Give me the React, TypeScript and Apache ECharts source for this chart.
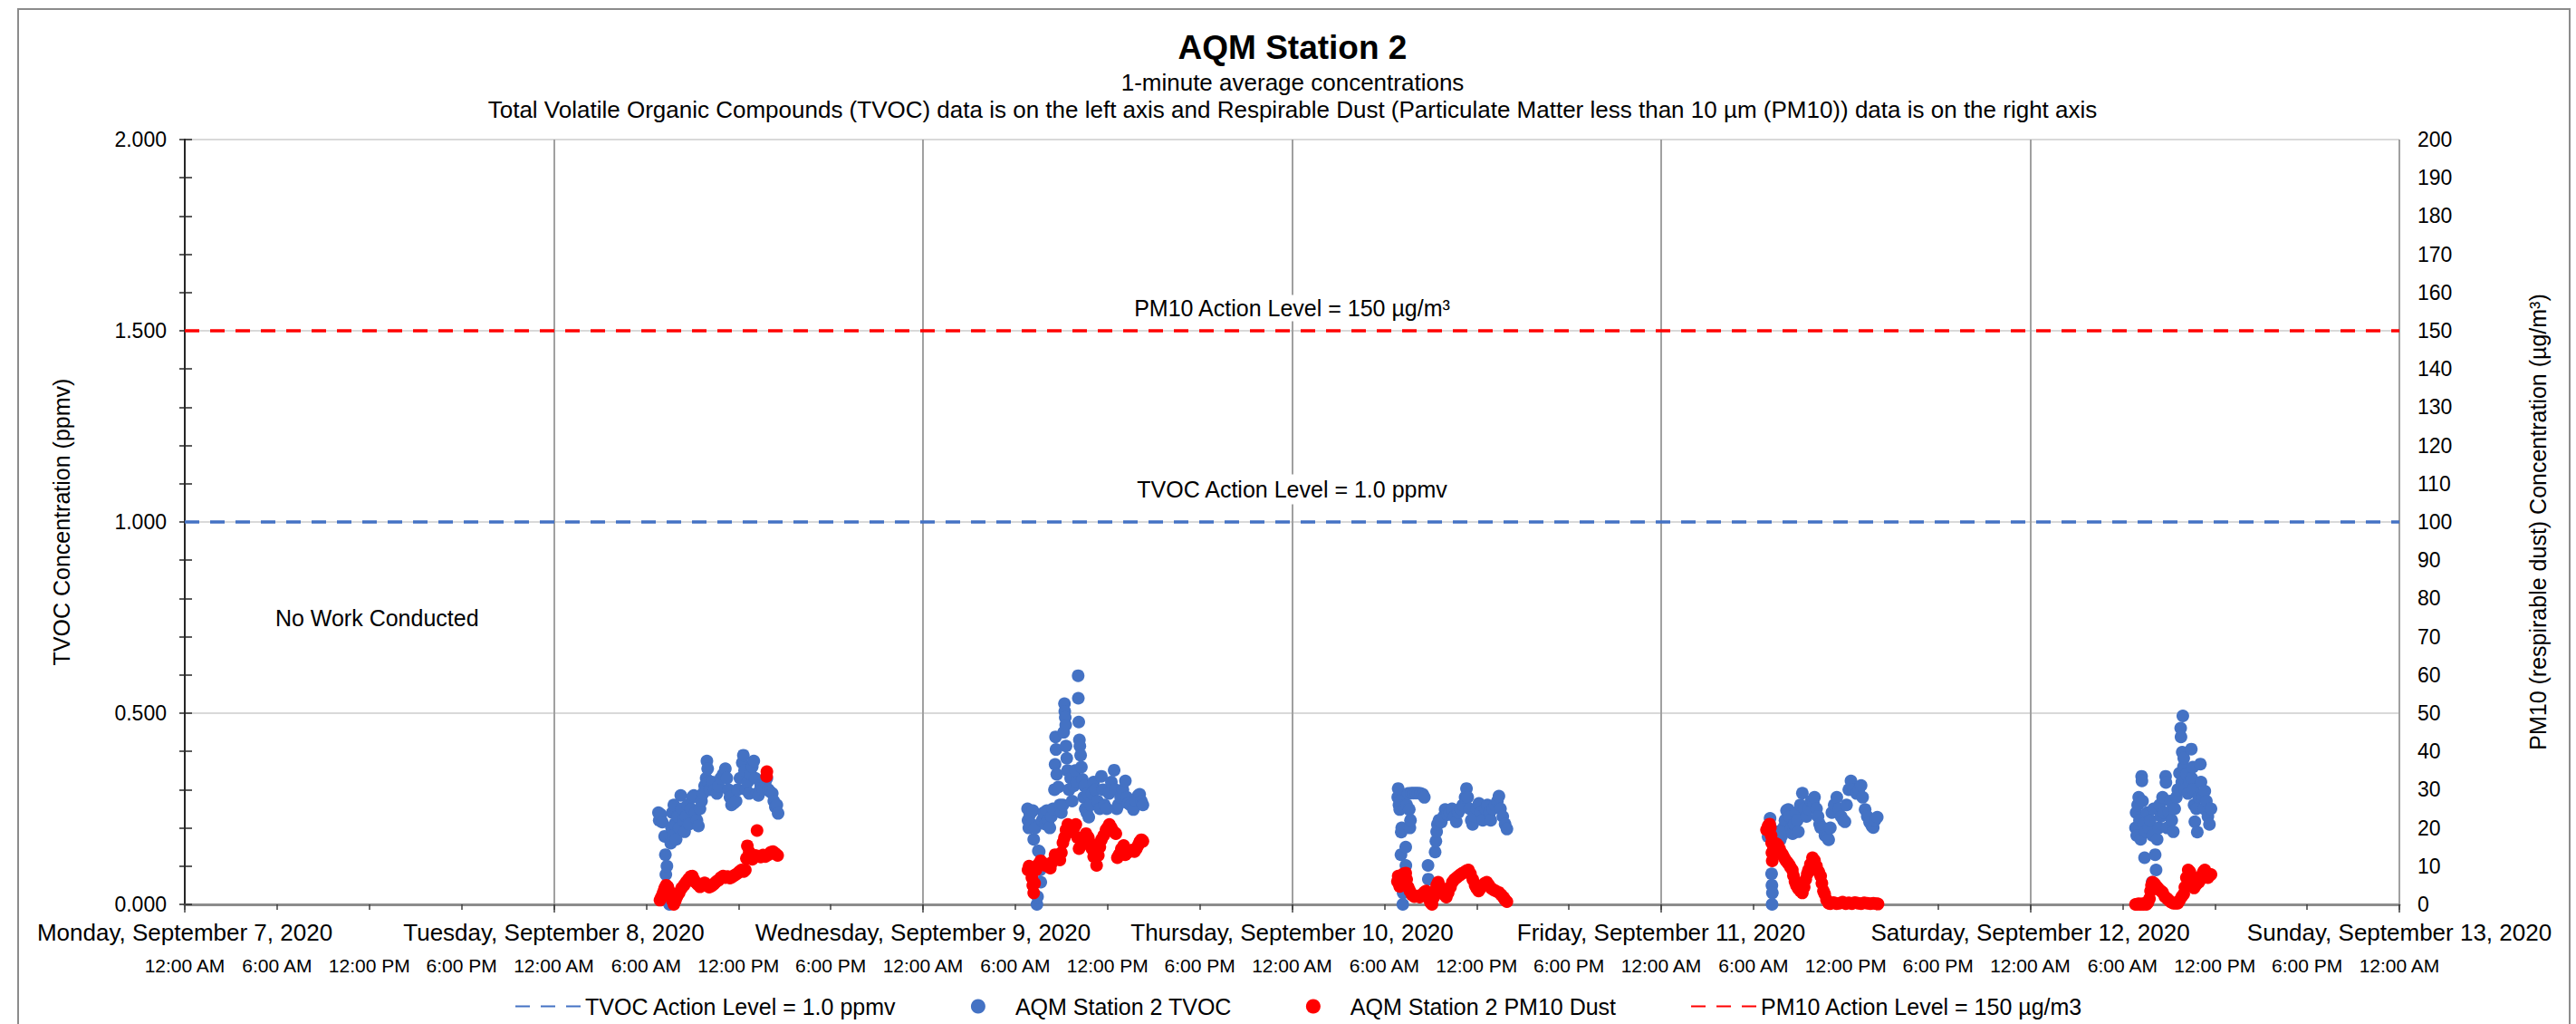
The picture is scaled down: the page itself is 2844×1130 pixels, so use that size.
import React, { useEffect, useRef } from 'react';
import * as echarts from 'echarts';

type Pt = [number, number];

// ---- labels ----
const dayLabels = [
  'Monday, September 7, 2020',
  'Tuesday, September 8, 2020',
  'Wednesday, September 9, 2020',
  'Thursday, September 10, 2020',
  'Friday, September 11, 2020',
  'Saturday, September 12, 2020',
  'Sunday, September 13, 2020',
];
const timeLabels = ['12:00 AM', '6:00 AM', '12:00 PM', '6:00 PM'];

const titleText = 'AQM Station 2';
const subtitle1 = '1-minute average concentrations';
const subtitle2 =
  'Total Volatile Organic Compounds (TVOC) data is on the left axis and Respirable Dust (Particulate Matter less than 10 µm (PM10)) data is on the right axis';

const tvocActionName = 'TVOC Action Level = 1.0 ppmv';
const tvocSeriesName = 'AQM Station 2 TVOC';
const pmSeriesName = 'AQM Station 2 PM10 Dust';
const pmActionName = 'PM10 Action Level = 150 µg/m3';
const pmActionLabel = 'PM10 Action Level = 150 µg/m³';
const noWorkLabel = 'No Work Conducted';

const tvocActionLevel = 1.0;
const pmActionLevel = 150;

// ---- data: [hour of day, value] ----
// TVOC (ppmv, left axis)
const tvocTue: Pt[] = [
  [6.8, 0.24], [6.85, 0.22], [6.95, 0.235], [7.05, 0.215], [7.2, 0.178], [7.25, 0.13], [7.28, 0.078],
  [7.35, 0.1], [7.4, 0.045], [7.45, 0.02], [7.52, 0.0], [7.6, 0.16], [7.65, 0.2], [7.7, 0.24],
  [7.75, 0.18], [7.8, 0.26], [7.85, 0.21], [7.95, 0.17], [8.05, 0.23], [8.15, 0.2], [8.25, 0.285],
  [8.3, 0.25], [8.4, 0.22], [8.5, 0.19], [8.6, 0.23], [8.7, 0.26], [8.8, 0.21], [8.9, 0.25],
  [9.0, 0.28], [9.1, 0.285], [9.2, 0.24], [9.3, 0.22], [9.4, 0.205], [9.5, 0.25], [9.6, 0.27],
  [9.7, 0.29], [9.8, 0.31], [9.9, 0.33], [9.95, 0.375], [10.0, 0.355], [10.05, 0.32], [10.15, 0.3],
  [10.3, 0.32], [10.45, 0.3], [10.6, 0.29], [10.7, 0.31], [10.85, 0.33], [11.0, 0.34], [11.15, 0.355],
  [11.25, 0.33], [11.35, 0.3], [11.45, 0.28], [11.55, 0.26], [11.7, 0.265], [11.85, 0.27], [11.95, 0.3],
  [12.1, 0.33], [12.25, 0.37], [12.32, 0.39], [12.4, 0.35], [12.5, 0.3], [12.6, 0.32], [12.7, 0.29],
  [12.8, 0.34], [12.9, 0.36], [13.0, 0.375], [13.1, 0.33], [13.2, 0.29], [13.3, 0.285], [13.45, 0.31],
  [13.6, 0.3], [13.75, 0.32], [13.85, 0.33], [13.95, 0.3], [14.05, 0.295], [14.2, 0.29], [14.3, 0.27],
  [14.4, 0.255], [14.5, 0.26], [14.58, 0.238],
];
const tvocWed: Pt[] = [
  [6.8, 0.25], [6.83, 0.22], [6.88, 0.2], [6.95, 0.235], [7.05, 0.21], [7.15, 0.245], [7.2, 0.17],
  [7.3, 0.2], [7.41, 0.0], [7.45, 0.02], [7.5, 0.14], [7.56, 0.138], [7.62, 0.09], [7.66, 0.058],
  [7.75, 0.22], [7.85, 0.24], [7.95, 0.21], [8.05, 0.245], [8.15, 0.22], [8.25, 0.2], [8.35, 0.23],
  [8.45, 0.25], [8.55, 0.3], [8.59, 0.366], [8.62, 0.438], [8.65, 0.405], [8.7, 0.34], [8.8, 0.307],
  [8.9, 0.26], [9.0, 0.24], [9.1, 0.26], [9.15, 0.45], [9.2, 0.525], [9.22, 0.505], [9.25, 0.489],
  [9.28, 0.469], [9.3, 0.414], [9.35, 0.382], [9.4, 0.35], [9.5, 0.3], [9.6, 0.33], [9.7, 0.27],
  [9.8, 0.31], [9.9, 0.35], [10.0, 0.32], [10.09, 0.598], [10.1, 0.539], [10.13, 0.477], [10.17, 0.43],
  [10.2, 0.414], [10.25, 0.39], [10.3, 0.359], [10.36, 0.327], [10.45, 0.28], [10.5, 0.31], [10.55, 0.25],
  [10.65, 0.24], [10.7, 0.29], [10.78, 0.228], [10.9, 0.26], [11.0, 0.29], [11.1, 0.32], [11.2, 0.3],
  [11.35, 0.27], [11.5, 0.25], [11.6, 0.335], [11.7, 0.3], [11.8, 0.26], [11.95, 0.25], [12.1, 0.29],
  [12.25, 0.32], [12.43, 0.351], [12.5, 0.3], [12.6, 0.25], [12.7, 0.26], [12.85, 0.28], [13.0, 0.3],
  [13.16, 0.323], [13.25, 0.28], [13.35, 0.264], [13.5, 0.26], [13.68, 0.248], [13.85, 0.27],
  [14.0, 0.285], [14.09, 0.288], [14.2, 0.27], [14.3, 0.26],
];
const tvocThu: Pt[] = [
  [6.87, 0.28], [6.9, 0.303], [6.95, 0.26], [7.0, 0.248], [7.05, 0.27], [7.1, 0.189], [7.13, 0.2],
  [7.08, 0.13], [7.2, 0.0], [7.22, 0.03], [7.39, 0.15], [7.4, 0.102], [7.45, 0.26], [7.55, 0.29],
  [7.62, 0.248], [7.66, 0.2], [7.7, 0.22], [7.75, 0.291], [7.9, 0.291], [8.05, 0.291], [8.2, 0.291],
  [8.35, 0.29], [8.5, 0.288], [8.6, 0.28], [8.84, 0.102], [8.86, 0.066], [9.3, 0.137], [9.35, 0.165],
  [9.4, 0.19], [9.45, 0.209], [9.55, 0.22], [9.7, 0.215], [9.85, 0.23], [9.95, 0.248], [10.1, 0.235],
  [10.25, 0.24], [10.4, 0.25], [10.55, 0.23], [10.68, 0.216], [10.8, 0.24], [10.95, 0.25], [11.1, 0.26],
  [11.25, 0.28], [11.34, 0.303], [11.42, 0.28], [11.55, 0.25], [11.65, 0.22], [11.74, 0.209],
  [11.85, 0.23], [12.0, 0.25], [12.15, 0.264], [12.26, 0.24], [12.4, 0.22], [12.55, 0.25], [12.7, 0.26],
  [12.85, 0.24], [12.92, 0.22], [13.05, 0.25], [13.2, 0.26], [13.35, 0.27], [13.45, 0.283],
  [13.55, 0.25], [13.7, 0.23], [13.85, 0.21], [13.97, 0.197],
];
const tvocFri: Pt[] = [
  [6.95, 0.177], [7.0, 0.2], [7.05, 0.21], [7.08, 0.225], [7.12, 0.19], [7.18, 0.08], [7.2, 0.05],
  [7.21, 0.0], [7.23, 0.03], [7.3, 0.17], [7.4, 0.18], [7.5, 0.19], [7.6, 0.175], [7.74, 0.169],
  [7.85, 0.18], [7.95, 0.2], [8.05, 0.22], [8.15, 0.245], [8.26, 0.248], [8.35, 0.23], [8.45, 0.2],
  [8.55, 0.185], [8.65, 0.21], [8.75, 0.24], [8.85, 0.22], [8.92, 0.19], [9.05, 0.26], [9.18, 0.291],
  [9.3, 0.25], [9.45, 0.23], [9.6, 0.25], [9.75, 0.27], [9.9, 0.265], [9.97, 0.28], [10.1, 0.25],
  [10.2, 0.23], [10.3, 0.21], [10.37, 0.201], [10.5, 0.2], [10.65, 0.18], [10.8, 0.175], [10.89, 0.169],
  [11.0, 0.2], [11.1, 0.24], [11.25, 0.26], [11.42, 0.28], [11.55, 0.25], [11.7, 0.23], [11.85, 0.22],
  [11.95, 0.216], [12.05, 0.26], [12.2, 0.3], [12.34, 0.323], [12.5, 0.3], [12.7, 0.29], [12.85, 0.3],
  [13.0, 0.311], [13.1, 0.28], [13.26, 0.248], [13.4, 0.23], [13.55, 0.215], [13.7, 0.205],
  [13.79, 0.201], [13.9, 0.22], [14.05, 0.228],
];
const tvocSat: Pt[] = [
  [6.84, 0.2], [6.88, 0.24], [6.92, 0.18], [6.98, 0.26], [7.05, 0.28], [7.1, 0.22], [7.18, 0.17],
  [7.24, 0.335], [7.26, 0.323], [7.3, 0.27], [7.36, 0.21], [7.43, 0.122], [7.5, 0.19], [7.6, 0.24],
  [7.7, 0.2], [7.8, 0.22], [7.92, 0.058], [7.95, 0.18], [8.02, 0.25], [8.12, 0.13], [8.18, 0.09],
  [8.25, 0.17], [8.35, 0.2], [8.41, 0.26], [8.5, 0.23], [8.6, 0.28], [8.7, 0.24], [8.8, 0.335],
  [8.82, 0.319], [8.9, 0.2], [9.0, 0.24], [9.1, 0.27], [9.2, 0.22], [9.3, 0.19], [9.39, 0.25],
  [9.5, 0.28], [9.59, 0.3], [9.7, 0.343], [9.78, 0.461], [9.8, 0.438], [9.85, 0.32], [9.88, 0.398],
  [9.92, 0.493], [9.96, 0.36], [9.98, 0.382], [10.05, 0.3], [10.15, 0.34], [10.25, 0.29], [10.35, 0.32],
  [10.47, 0.406], [10.5, 0.33], [10.57, 0.359], [10.6, 0.3], [10.65, 0.26], [10.7, 0.216], [10.8, 0.25],
  [10.86, 0.189], [10.95, 0.28], [11.06, 0.367], [11.1, 0.32], [11.2, 0.28], [11.3, 0.25],
  [11.35, 0.296], [11.45, 0.27], [11.55, 0.23], [11.65, 0.209], [11.75, 0.25],
];

// PM10 (µg/m³, right axis)
const pmTue: Pt[] = [
  [6.9, 1.1], [7.0, 2.0], [7.1, 3.0], [7.2, 4.2], [7.3, 5.0], [7.4, 4.6], [7.5, 3.5], [7.6, 2.2],
  [7.7, 1.0], [7.8, 0.0], [7.9, 1.0], [8.0, 2.0], [8.15, 3.0], [8.3, 4.2], [8.46, 5.0], [8.6, 5.8],
  [8.75, 6.6], [8.9, 7.3], [9.0, 7.4], [9.1, 6.5], [9.2, 5.8], [9.35, 5.2], [9.5, 4.6], [9.65, 5.0],
  [9.8, 5.6], [9.95, 5.0], [10.1, 4.5], [10.25, 4.8], [10.4, 5.3], [10.55, 5.9], [10.7, 6.3],
  [10.85, 7.0], [11.0, 7.4], [11.15, 7.0], [11.3, 7.3], [11.45, 6.9], [11.6, 7.2], [11.75, 7.6],
  [11.9, 8.0], [12.05, 8.5], [12.2, 9.0], [12.35, 8.6], [12.45, 9.0], [12.52, 12.0], [12.58, 15.3],
  [12.7, 13.7], [12.8, 12.5], [12.9, 11.8], [13.0, 12.2], [13.1, 12.8], [13.21, 19.3], [13.3, 12.6],
  [13.45, 12.4], [13.6, 12.9], [13.75, 12.5], [13.83, 33.5], [13.85, 34.7], [13.95, 13.0],
  [14.1, 13.6], [14.25, 13.8], [14.4, 13.3], [14.55, 12.8],
];
const pmWed: Pt[] = [
  [6.83, 9.0], [6.9, 10.0], [7.0, 9.0], [7.08, 7.0], [7.14, 5.0], [7.2, 3.0], [7.26, 5.5], [7.35, 9.0],
  [7.5, 10.5], [7.65, 11.4], [7.8, 10.8], [7.95, 10.2], [8.1, 10.0], [8.28, 9.5], [8.4, 11.0],
  [8.59, 13.0], [8.75, 12.2], [8.9, 11.6], [9.0, 13.5], [9.1, 16.1], [9.2, 17.5], [9.3, 19.5],
  [9.42, 20.9], [9.55, 19.5], [9.7, 19.0], [9.82, 20.0], [9.94, 20.9], [10.05, 17.5], [10.15, 14.6],
  [10.3, 15.5], [10.45, 17.0], [10.6, 18.5], [10.75, 17.5], [10.88, 16.0], [10.98, 14.6], [11.1, 12.5],
  [11.29, 10.2], [11.4, 12.8], [11.5, 15.0], [11.6, 16.9], [11.75, 18.0], [11.9, 19.5], [12.0, 20.0],
  [12.12, 20.9], [12.25, 20.0], [12.4, 19.0], [12.54, 18.5], [12.64, 12.2], [12.75, 13.0], [12.9, 14.5],
  [13.05, 15.4], [13.15, 13.0], [13.3, 13.5], [13.45, 14.0], [13.6, 14.2], [13.75, 13.8], [13.88, 14.6],
  [14.0, 15.5], [14.1, 16.4], [14.2, 16.9], [14.3, 16.5],
];
const pmThu: Pt[] = [
  [6.85, 6.0], [6.9, 7.4], [6.95, 5.5], [7.0, 4.7], [7.05, 6.0], [7.15, 7.5], [7.25, 8.0], [7.39, 8.2],
  [7.45, 6.5], [7.55, 4.5], [7.66, 3.5], [7.8, 2.5], [7.95, 2.0], [8.1, 2.2], [8.3, 1.9], [8.45, 2.6],
  [8.6, 3.2], [8.71, 3.5], [8.8, 2.5], [8.9, 1.5], [9.0, 0.5], [9.1, 0.0], [9.2, 1.8], [9.3, 3.5],
  [9.4, 5.0], [9.5, 5.8], [9.6, 4.8], [9.75, 3.5], [9.9, 2.5], [10.03, 1.9], [10.15, 3.0], [10.3, 4.5],
  [10.42, 5.8], [10.55, 6.5], [10.7, 7.0], [10.82, 7.4], [10.95, 7.8], [11.1, 8.2], [11.25, 8.5],
  [11.35, 8.8], [11.47, 9.0], [11.6, 8.0], [11.75, 6.5], [11.9, 5.0], [12.0, 4.2], [12.13, 3.5],
  [12.25, 4.2], [12.4, 5.0], [12.52, 5.5], [12.66, 5.8], [12.8, 5.0], [12.95, 4.2], [13.1, 3.8],
  [13.25, 3.5], [13.45, 3.1], [13.6, 2.5], [13.75, 1.8], [13.85, 1.2], [13.97, 0.7],
];
const pmFri: Pt[] = [
  [6.85, 19.5], [6.95, 20.5], [7.05, 21.0], [7.1, 20.0], [7.15, 18.0], [7.18, 16.1], [7.2, 13.5],
  [7.22, 11.4], [7.3, 14.5], [7.4, 16.0], [7.5, 15.8], [7.6, 15.4], [7.7, 14.5], [7.8, 13.5], [7.9, 13.0],
  [8.0, 12.2], [8.1, 11.5], [8.2, 11.0], [8.3, 10.5], [8.4, 9.8], [8.53, 9.0], [8.6, 7.5], [8.7, 6.0],
  [8.79, 5.0], [8.9, 4.2], [9.05, 3.5], [9.18, 3.0], [9.3, 4.5], [9.4, 6.5], [9.5, 8.0], [9.58, 9.0],
  [9.7, 10.5], [9.84, 12.2], [9.97, 11.5], [10.1, 10.0], [10.25, 8.5], [10.37, 7.4], [10.45, 5.5],
  [10.55, 3.5], [10.63, 2.7], [10.75, 1.2], [10.89, 0.3], [11.0, 0.2], [11.2, 0.5], [11.4, 0.2],
  [11.6, 0.3], [11.8, 0.6], [12.0, 0.2], [12.2, 0.4], [12.4, 0.2], [12.6, 0.5], [12.8, 0.3], [13.0, 0.2],
  [13.2, 0.4], [13.4, 0.3], [13.6, 0.2], [13.8, 0.3], [14.0, 0.2], [14.1, 0.1],
];
const pmSat: Pt[] = [
  [6.84, 0.0], [6.95, 0.0], [7.05, 0.2], [7.15, 0.0], [7.25, 0.1], [7.35, 0.0], [7.45, 0.3], [7.55, 0.0],
  [7.65, 0.5], [7.75, 1.5], [7.82, 3.5], [7.88, 5.0], [7.95, 5.8], [8.05, 5.5], [8.15, 5.0], [8.25, 4.5],
  [8.35, 4.0], [8.5, 3.5], [8.61, 3.1], [8.75, 2.0], [8.9, 1.5], [9.0, 1.1], [9.15, 0.6], [9.3, 0.3],
  [9.45, 0.3], [9.59, 0.3], [9.7, 1.0], [9.85, 2.0], [9.98, 2.7], [10.05, 4.5], [10.15, 7.0],
  [10.27, 9.0], [10.38, 8.5], [10.47, 7.4], [10.57, 5.5], [10.65, 4.3], [10.75, 5.0], [10.86, 5.5],
  [10.96, 5.8], [11.06, 6.5], [11.15, 7.5], [11.25, 8.5], [11.35, 9.0], [11.45, 8.0], [11.55, 7.0],
  [11.65, 7.8], [11.75, 7.8],
];

// day index (0 = Monday) for each day's samples
const tvocDays: [number, Pt[]][] = [[1, tvocTue], [2, tvocWed], [3, tvocThu], [4, tvocFri], [5, tvocSat]];
const pmDays: [number, Pt[]][] = [[1, pmTue], [2, pmWed], [3, pmThu], [4, pmFri], [5, pmSat]];

const toHours = (days: [number, Pt[]][]) =>
  days.flatMap(([d, pts]) => pts.map(([h, v]) => [d * 24 + h, v]));

const FONT = 'Liberation Sans, Arial, sans-serif';
const BLUE = '#4472C4';
const RED = '#FF0000';

export default function App() {
  const ref = useRef<HTMLDivElement>(null);

  useEffect(() => {
    document.body.style.margin = '0';
    if (!ref.current) return;
    const chart = echarts.init(ref.current, undefined, { renderer: 'svg' });
    const totalHours = (dayLabels.length - 1) * 24;

    const hiddenSymbol = { color: 'rgba(0,0,0,0)', borderWidth: 0, opacity: 0 };

    const option: any = {
      animation: false,
      backgroundColor: '#fff',
      textStyle: { fontFamily: FONT, color: '#000' },
      grid: { left: 204, right: 195, top: 154, bottom: 132, containLabel: false },
      graphic: [
        {
          type: 'rect',
          shape: { x: 20, y: 10, width: 2817, height: 1140 },
          style: { fill: 'none', stroke: '#8c8c8c', lineWidth: 2 },
          silent: true,
        },
        {
          type: 'text', x: 1427, y: 52,
          style: { text: titleText, fontSize: 37, fontWeight: 'bold', fill: '#000', font: `bold 37px ${FONT}`, textAlign: 'center', textVerticalAlign: 'middle' },
        },
        {
          type: 'text', x: 1427, y: 91,
          style: { text: subtitle1, fontSize: 26, fill: '#000', font: `26px ${FONT}`, textAlign: 'center', textVerticalAlign: 'middle' },
        },
        {
          type: 'text', x: 1427, y: 121,
          style: { text: subtitle2, fontSize: 26, fill: '#000', font: `26px ${FONT}`, textAlign: 'center', textVerticalAlign: 'middle' },
        },
      ],
      legend: {
        left: 563,
        top: 1093,
        itemWidth: 72,
        itemHeight: 16,
        itemGap: 82,
        textStyle: { fontSize: 25, color: '#000', fontFamily: FONT },
        data: [
          { name: tvocActionName, itemStyle: hiddenSymbol },
          { name: tvocSeriesName },
          { name: pmSeriesName },
          { name: pmActionName, itemStyle: hiddenSymbol },
        ],
      },
      xAxis: [
        {
          type: 'value', min: 0, max: totalHours, interval: 6, position: 'bottom',
          axisLine: { show: true, lineStyle: { color: '#8c8c8c', width: 3 } },
          axisTick: { show: true, length: 6, lineStyle: { color: '#404040', width: 1.5 } },
          axisLabel: {
            margin: 57, fontSize: 21, color: '#000', fontFamily: FONT,
            formatter: (v: number) => timeLabels[Math.round(v / 6) % 4],
          },
          splitLine: { show: false },
        },
        {
          type: 'value', min: 0, max: totalHours, interval: 24, position: 'bottom',
          axisLine: { show: false },
          axisTick: { show: true, length: 9, lineStyle: { color: '#404040', width: 1.5 } },
          axisLabel: {
            margin: 18, fontSize: 26, color: '#000', fontFamily: FONT,
            formatter: (v: number) => dayLabels[Math.round(v / 24)],
          },
          splitLine: { show: true, lineStyle: { color: '#a0a0a0', width: 2 } },
        },
      ],
      yAxis: [
        {
          type: 'value', min: 0, max: 2, interval: 0.5, position: 'left',
          name: 'TVOC Concentration (ppmv)', nameLocation: 'middle', nameRotate: 90, nameGap: 124,
          nameTextStyle: { fontSize: 25, color: '#000', fontFamily: FONT },
          axisLine: { show: true, lineStyle: { color: '#262626', width: 2 } },
          axisTick: { show: true, length: 6, lineStyle: { color: '#262626', width: 1.5 } },
          minorTick: { show: true, splitNumber: 5, length: 6, lineStyle: { color: '#262626', width: 1.5 } },
          axisLabel: { margin: 20, fontSize: 23, color: '#000', fontFamily: FONT, formatter: (v: number) => v.toFixed(3) },
          splitLine: { show: true, lineStyle: { color: '#d9d9d9', width: 2 } },
        },
        {
          type: 'value', min: 0, max: 200, interval: 10, position: 'right',
          name: 'PM10 (respirable dust) Concentration (µg/m³)', nameLocation: 'middle', nameRotate: 90, nameGap: 140,
          nameTextStyle: { fontSize: 25, color: '#000', fontFamily: FONT },
          axisLine: { show: true, lineStyle: { color: '#262626', width: 2 } },
          axisTick: { show: true, length: 8, lineStyle: { color: '#262626', width: 1.5 } },
          axisLabel: { margin: 20, fontSize: 23, color: '#000', fontFamily: FONT },
          splitLine: { show: false },
        },
      ],
      series: [
        {
          name: tvocActionName, type: 'line', xAxisIndex: 0, yAxisIndex: 0,
          data: [[0, tvocActionLevel], [totalHours, tvocActionLevel]],
          symbol: 'none', silent: true,
          lineStyle: { color: BLUE, width: 3.5, type: [16, 12] },
          itemStyle: { color: BLUE },
          markPoint: {
            symbol: 'rect', symbolSize: 1, silent: true,
            itemStyle: { color: 'rgba(0,0,0,0)' },
            label: {
              show: true, position: 'inside', offset: [0, -36], formatter: tvocActionName,
              fontSize: 25, color: '#000', fontFamily: FONT, backgroundColor: '#fff', padding: [4, 6],
            },
            data: [{ coord: [totalHours / 2, tvocActionLevel] }],
          },
        },
        {
          name: tvocSeriesName, type: 'scatter', xAxisIndex: 0, yAxisIndex: 0,
          data: toHours(tvocDays), symbol: 'circle', symbolSize: 14,
          itemStyle: { color: BLUE, opacity: 1 },
          markPoint: {
            symbol: 'rect', symbolSize: 1, silent: true,
            itemStyle: { color: 'rgba(0,0,0,0)' },
            label: { show: true, position: 'inside', formatter: noWorkLabel, fontSize: 25, color: '#000', fontFamily: FONT },
            data: [{ coord: [12.5, 0.75] }],
          },
        },
        {
          name: pmSeriesName, type: 'scatter', xAxisIndex: 0, yAxisIndex: 1,
          data: toHours(pmDays), symbol: 'circle', symbolSize: 14,
          itemStyle: { color: RED, opacity: 1 },
        },
        {
          name: pmActionName, type: 'line', xAxisIndex: 0, yAxisIndex: 1,
          data: [[0, pmActionLevel], [totalHours, pmActionLevel]],
          symbol: 'none', silent: true,
          lineStyle: { color: RED, width: 3.5, type: [16, 12] },
          itemStyle: { color: RED },
          markPoint: {
            symbol: 'rect', symbolSize: 1, silent: true,
            itemStyle: { color: 'rgba(0,0,0,0)' },
            label: {
              show: true, position: 'inside', offset: [0, -25], formatter: pmActionLabel,
              fontSize: 25, color: '#000', fontFamily: FONT, backgroundColor: '#fff', padding: [2, 6],
            },
            data: [{ coord: [totalHours / 2, pmActionLevel] }],
          },
        },
      ],
    };

    chart.setOption(option);
    return () => chart.dispose();
  }, []);

  return <div ref={ref} style={{ width: 2844, height: 1130 }} />;
}
